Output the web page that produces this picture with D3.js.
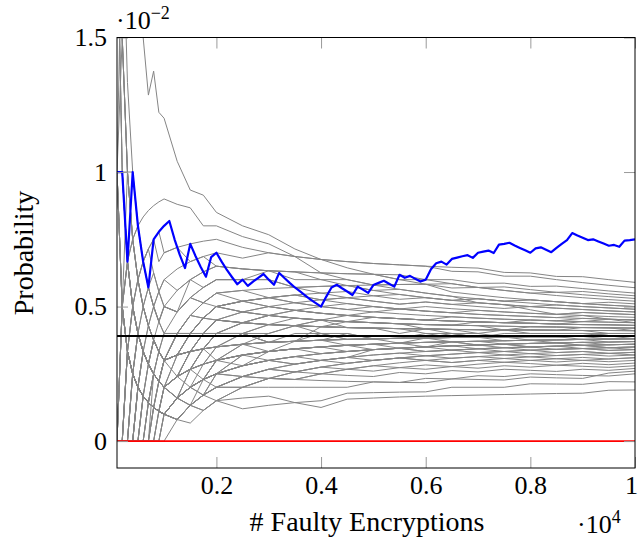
<!DOCTYPE html>
<html>
<head>
<meta charset="utf-8">
<script src="https://cdn.jsdelivr.net/npm/d3@7"></script>
<style>
  body { margin: 0; background: #fff; }
  svg { display: block; font-family: "Liberation Serif", "Times New Roman", serif; }
</style>
</head>
<body>
<div id="chart"></div>
<script>
// number of faulty encryptions at which the wrong-key curves were sampled
var grayN = [100, 200, 300, 400, 500, 600, 700, 800, 900, 1000,
  1250, 1500, 1750, 2000, 2500, 3000, 3500, 4000, 4500, 5000,
  5500, 6000, 6500, 7000, 7500, 8000, 8500, 9000, 9500, 10000];

// wrong key candidates, probability in units of 1e-5
var wrongKeys = [
  [0,0,333,250,200,167,143,125,111,100, 80,133,114,150,120,133,143,125,156,160,164,167,169,171,173,175,177,178,189,190],
  [0,0,0,0,0,0,0,0,111,100, 80,133,171,150,160,167,143,150,178,180,182,183,200,200,200,213,212,211,221,220],
  [0,0,0,0,0,167,143,125,111,100, 160,133,171,200,200,200,200,200,200,220,218,233,231,243,240,250,247,244,242,250],
  [0,0,0,0,200,167,143,125,111,100, 160,200,171,250,240,233,229,250,244,240,255,250,262,257,267,263,259,267,263,270],
  [0,0,0,250,200,167,143,125,111,200, 160,200,229,250,240,267,257,250,267,260,273,267,277,271,280,275,282,278,274,280],
  [0,0,333,250,200,167,143,125,111,100, 160,200,229,200,240,233,257,275,267,280,273,283,277,286,293,288,282,289,284,290],
  [0,500,333,250,200,167,143,125,111,100, 80,133,171,200,200,233,229,250,267,280,291,300,292,300,293,300,294,300,295,300],
  [1000,500,333,250,200,167,143,125,111,100, 160,200,229,250,280,300,286,300,289,300,309,300,308,314,307,313,306,311,305,310],
  [0,0,0,0,0,0,143,125,111,200, 240,267,286,300,320,300,314,300,311,300,309,317,308,314,320,313,318,322,316,320],
  [0,0,0,0,0,0,0,125,111,100, 160,200,171,200,240,267,286,300,311,320,327,317,323,329,320,325,318,322,326,320],
  [0,0,0,0,0,0,0,0,0,100, 160,200,229,250,280,300,314,325,333,340,345,333,338,343,333,338,329,333,326,330],
  [0,0,333,250,400,333,286,250,222,200, 240,333,343,350,360,333,343,325,333,340,345,350,338,343,347,338,341,344,337,340],
  [0,500,333,250,400,333,286,250,333,300, 320,333,343,300,320,333,343,350,356,360,345,350,354,343,347,350,341,344,347,340],
  [1000,500,667,500,400,333,286,250,222,200, 240,267,286,350,360,367,371,375,356,360,364,350,354,357,360,350,353,356,347,350],
  [0,0,0,250,200,167,286,250,222,200, 240,200,229,250,320,333,343,350,333,340,345,350,354,357,347,350,353,344,347,350],
  [0,0,0,0,200,333,286,250,222,300, 320,333,343,400,400,367,371,375,378,380,364,367,369,357,360,363,365,356,358,360],
  [2000,1000,667,500,400,333,286,250,222,200, 160,200,229,300,320,333,343,350,356,360,364,367,369,371,360,363,365,367,358,360],
  [0,0,0,0,0,0,143,125,222,200, 240,333,400,400,400,367,371,400,400,380,382,383,385,386,373,375,376,378,368,370],
  [0,0,333,500,400,333,286,375,333,300, 320,333,343,350,360,367,371,375,378,380,382,383,369,371,373,375,365,367,368,370],
  [0,0,0,0,0,0,0,0,111,100, 160,200,286,350,360,367,371,375,378,380,382,383,385,386,387,388,388,378,379,380],
  [0,500,333,250,200,333,286,250,222,200, 240,267,343,400,440,433,429,425,422,420,400,417,415,400,387,388,388,389,379,380],
  [0,0,0,0,200,167,143,125,222,200, 320,333,400,400,400,433,429,400,378,380,382,400,400,386,387,388,388,389,389,390],
  [0,0,0,0,0,167,143,125,111,100, 160,267,286,300,320,333,343,350,356,360,364,383,385,386,387,388,388,389,389,390],
  [0,0,0,250,200,167,143,250,222,300, 400,467,457,450,440,433,429,425,422,420,418,417,415,414,413,400,400,400,389,390],
  [0,0,0,0,0,0,0,125,111,100, 160,200,229,300,360,367,400,400,378,380,382,383,385,386,387,388,388,389,400,400],
  [1000,1000,667,500,400,333,286,250,222,300, 320,333,400,450,440,433,429,425,422,420,418,417,415,414,413,413,412,411,400,400],
  [0,0,0,0,0,0,0,0,0,0, 80,133,171,250,320,333,371,375,400,380,382,383,400,400,413,413,412,411,411,410],
  [0,0,333,250,400,500,429,375,333,400, 400,400,457,450,440,467,457,450,444,440,436,433,431,429,413,413,412,411,411,410],
  [0,0,0,0,0,167,286,250,222,200, 240,333,343,400,400,367,371,425,422,420,418,417,415,414,413,425,424,422,421,420],
  [0,500,333,500,400,333,286,250,333,300, 320,400,457,500,480,467,457,450,444,440,436,433,431,429,427,425,424,422,421,420],
  [0,0,0,0,200,167,143,250,222,200, 240,267,343,400,440,433,457,450,444,440,436,433,431,443,440,438,435,433,432,430],
  [2000,1000,667,500,600,500,429,375,333,300, 320,400,400,450,480,500,486,475,467,460,455,450,446,443,440,438,435,433,432,430],
  [0,0,0,250,200,167,286,375,333,300, 320,333,400,450,440,433,429,450,444,460,455,450,446,443,440,450,447,444,442,440],
  [0,500,333,250,400,333,429,375,333,300, 400,467,514,500,520,500,486,500,489,480,473,467,462,457,453,450,447,456,453,450],
  [0,0,0,0,0,0,143,250,222,300, 320,400,400,450,440,467,486,475,467,460,455,450,462,457,453,450,447,444,453,450],
  [1000,500,333,500,400,500,429,500,444,400, 400,467,457,500,520,533,514,500,489,500,491,483,477,471,467,463,459,467,463,460],
  [0,0,0,0,0,167,143,250,333,300, 320,400,457,500,480,500,514,500,511,500,491,500,492,486,480,475,471,478,474,470],
  [0,0,0,250,400,333,286,375,333,400, 480,533,514,550,560,533,543,525,533,520,509,517,508,500,493,500,494,489,484,480],
  [0,0,333,250,200,333,429,375,333,300, 400,400,457,500,520,533,514,525,533,520,509,517,508,514,507,500,506,500,495,490],
  [1000,500,667,750,600,500,571,500,444,500, 480,533,571,600,600,600,571,575,578,560,564,550,538,529,520,525,518,511,505,500],
  [0,0,0,0,0,0,0,125,222,300, 400,400,457,500,520,533,543,550,533,540,527,533,523,529,520,525,518,511,516,510],
  [0,500,667,500,600,500,571,500,444,500, 480,600,629,650,640,633,629,625,622,620,618,600,585,571,560,550,541,533,526,520],
  [0,0,0,0,200,333,286,375,444,500, 480,533,571,600,600,600,571,575,578,580,582,583,585,571,573,563,553,556,547,540],
  [2000,1500,1000,750,600,500,429,500,556,500, 560,600,571,600,600,633,629,625,622,620,600,600,600,586,587,575,576,567,558,550],
  [0,0,333,500,600,667,571,625,556,600, 640,667,686,700,680,700,686,675,667,660,655,650,631,629,613,613,600,589,579,570],
  [1000,1000,1000,750,800,667,714,750,778,700, 720,733,743,750,720,700,686,675,667,660,655,650,646,643,627,625,612,611,600,590],
  [3000,1500,1000,750,800,833,857,875,889,900, 880,867,800,800,760,733,686,625,600,580,564,550,538,514,507,488,471,467,453,440],
  [2000,2000,1333,1000,800,667,571,500,444,400, 400,400,457,500,480,467,457,450,422,420,418,417,400,386,387,388,388,389,400,400],
  [1000,1500,1000,750,600,500,429,375,333,300, 240,267,286,300,320,333,343,350,356,360,364,367,369,357,360,363,365,356,358,360],
  [0,500,1000,1000,800,667,714,750,667,700, 720,667,686,650,640,633,600,600,578,560,545,533,523,514,507,500,494,489,484,480],
  [0,0,0,0,0,0,0,0,0,100, 80,133,229,250,280,333,343,350,356,360,364,367,369,371,373,375,376,378,379,380],
  [1000,500,333,250,200,167,143,250,222,200, 160,200,229,300,320,333,343,350,356,340,345,333,338,329,333,325,329,333,326,330],
  [1000,2000,2000,1750,1600,1500,1286,1375,1222,1200, 1040,933,914,850,800,767,714,675,644,620,600,583,554,543,533,525,518,511,505,500],
  [0,0,0,0,0,0,0,250,222,200, 240,267,286,300,280,300,314,325,333,340,345,350,354,357,360,350,353,356,347,350],
  [1000,500,333,250,200,333,286,250,222,200, 240,267,229,250,280,300,314,325,333,340,345,350,354,357,360,363,365,367,368,370],
  [0,0,0,250,200,167,143,125,111,100, 160,133,171,200,240,267,286,300,311,340,345,350,369,371,373,375,376,378,379,390],
  [0,500,333,250,200,167,143,125,111,200, 240,267,343,350,400,400,429,425,444,440,436,433,431,429,427,425,424,422,421,410],
  [0,0,0,0,0,0,143,125,111,100, 160,267,343,400,440,467,457,450,444,440,436,417,415,414,413,413,412,422,421,420],
  [0,0,0,0,200,167,143,125,111,200, 320,400,457,500,520,500,486,475,467,460,455,450,446,443,440,438,435,444,442,440],
  [2000,1000,667,500,400,333,286,375,333,300, 320,333,343,350,360,367,371,375,378,380,382,383,385,386,387,375,376,378,379,380],
  [0,0,333,250,200,167,143,125,111,100, 160,200,229,250,280,300,286,300,311,320,327,333,338,343,347,350,353,356,358,360],
  [0,0,0,0,0,0,0,0,111,200, 240,333,400,450,480,467,486,475,467,460,455,450,446,443,440,438,435,433,432,430],
  [1000,500,667,500,400,333,286,250,222,300, 400,467,514,550,520,533,543,525,511,500,491,483,477,486,480,475,471,478,474,470],
  [0,0,0,0,0,167,143,125,222,300, 320,333,343,350,400,433,429,425,422,420,418,400,385,386,400,400,400,400,400,400],
  [0,0,0,0,0,0,0,125,111,100, 80,67,114,150,200,233,257,275,289,300,309,317,323,329,333,338,341,344,337,340],
  [1000,1000,667,500,400,333,286,250,222,200, 160,133,171,200,240,267,257,275,289,300,309,300,292,300,307,300,306,300,305,310],
  [0,0,0,0,0,0,0,0,0,100, 160,200,229,300,360,400,429,450,467,480,491,483,477,471,467,463,459,456,453,450],
  [1000,1000,667,750,600,667,714,625,556,600, 560,600,629,650,640,633,629,600,600,580,582,583,569,571,560,550,553,544,537,530],
  [0,0,0,0,200,167,143,125,111,100, 80,133,114,150,200,233,229,225,222,220,218,217,231,229,227,238,235,233,253,260],
  [2000,1500,1000,750,600,667,571,500,556,500, 480,533,514,550,560,567,571,550,556,540,545,533,523,529,520,513,506,500,495,490]
];

// correct key, sampled every 100 encryptions, units of 1e-5
var blueN = [100,200,300,400,500,600,700,800,900,1000,
  1100,1200,1300,1400,1500,1600,1700,1800,1900,2000,
  2100,2200,2300,2400,2500,2600,2700,2800,2900,3000,
  3100,3200,3300,3400,3500,3600,3700,3800,3900,4000,
  4100,4200,4300,4400,4500,4600,4700,4800,4900,5000,
  5100,5200,5300,5400,5500,5600,5700,5800,5900,6000,
  6100,6200,6300,6400,6500,6600,6700,6800,6900,7000,
  7100,7200,7300,7400,7500,7600,7700,7800,7900,8000,
  8100,8200,8300,8400,8500,8600,8700,8800,8900,9000,
  9100,9200,9300,9400,9500,9600,9700,9800,9900,10000];
var correctKey = [1000,1000,667,1000,800,667,571,750,778,800,
  818,750,692,643,733,688,647,611,684,700,
  667,636,609,583,600,577,593,607,621,600,
  581,625,606,588,571,556,541,526,513,500,
  537,571,581,568,556,543,574,563,551,580,
  588,596,585,574,618,607,614,603,593,600,
  639,661,667,656,677,682,687,691,681,700,
  704,708,699,730,733,737,727,718,709,700,
  716,720,711,702,718,733,747,773,764,756,
  747,750,742,734,726,729,722,745,747,750];

var uniformProb = 0.00390625;
var zeroProb = 0;

var xTickVals = [2000, 4000, 6000, 8000, 10000];
var xTickLabels = ["0.2", "0.4", "0.6", "0.8", "1"];
var yTickVals = [0, 0.005, 0.01, 0.015];
var yTickLabels = ["0", "0.5", "1", "1.5"];

var width = 639;
var height = 546;
var margin = { top: 37.5, right: 4, bottom: 78, left: 117 };
var unit = 1e-5;

var x = d3.scaleLinear().domain([100, 10000]).range([margin.left, width - margin.right]);
var y = d3.scaleLinear().domain([-0.001, 0.015]).range([height - margin.bottom, margin.top]);

var svg = d3.select("#chart").append("svg")
  .attr("width", width)
  .attr("height", height);

svg.append("clipPath").attr("id", "plot-clip")
  .append("rect")
  .attr("x", x.range()[0]).attr("y", y.range()[1])
  .attr("width", x.range()[1] - x.range()[0])
  .attr("height", y.range()[0] - y.range()[1]);

var plot = svg.append("g").attr("clip-path", "url(#plot-clip)");

var grayLine = d3.line()
  .x((d, i) => x(grayN[i]))
  .y((d) => y(d * unit));

plot.selectAll(".wrong")
  .data(wrongKeys)
  .enter()
  .append("path")
  .attr("class", "wrong")
  .attr("d", grayLine)
  .attr("fill", "none")
  .attr("stroke", "#858585")
  .attr("stroke-width", 1);

// horizontal reference lines
plot.append("line")
  .attr("x1", x(100)).attr("x2", x(10000))
  .attr("y1", y(uniformProb)).attr("y2", y(uniformProb))
  .attr("stroke", "#000").attr("stroke-width", 1.8);

plot.append("line")
  .attr("x1", x(100)).attr("x2", x(10000))
  .attr("y1", y(zeroProb)).attr("y2", y(zeroProb))
  .attr("stroke", "#ff0000").attr("stroke-width", 1.8);

var blueLine = d3.line()
  .x((d, i) => x(blueN[i]))
  .y((d) => y(d * unit));

plot.append("path")
  .datum(correctKey)
  .attr("d", blueLine)
  .attr("fill", "none")
  .attr("stroke", "#0000ff")
  .attr("stroke-width", 2.2)
  .attr("stroke-linejoin", "round");

/* axes, ticks pointing inward on all four sides */
var tickLen = 11;
function styleAxis(g) {
  g.select(".domain").remove();
  g.selectAll(".tick line").attr("stroke", "#9a9a9a").attr("stroke-width", 1);
  g.selectAll(".tick text").attr("fill", "#000").style("font-size", "26px")
    .style("font-family", "'Liberation Serif', serif");
}

var xAxisG = svg.append("g")
  .attr("transform", `translate(0, ${y.range()[0]})`)
  .call(d3.axisBottom(x).tickValues(xTickVals)
    .tickFormat((d, i) => xTickLabels[i]).tickSize(-tickLen).tickPadding(8))
  .call(styleAxis);
// keep the last label inside the picture
xAxisG.selectAll(".tick text").filter((d) => d === 10000).attr("dx", -4);

svg.append("g")
  .attr("transform", `translate(0, ${y.range()[1]})`)
  .call(d3.axisTop(x).tickValues(xTickVals).tickFormat("").tickSize(-tickLen))
  .call(styleAxis);

svg.append("g")
  .attr("transform", `translate(${x.range()[0]}, 0)`)
  .call(d3.axisLeft(y).tickValues(yTickVals)
    .tickFormat((d, i) => yTickLabels[i]).tickSize(-tickLen).tickPadding(10))
  .call(styleAxis);

svg.append("g")
  .attr("transform", `translate(${x.range()[1]}, 0)`)
  .call(d3.axisRight(y).tickValues(yTickVals).tickFormat("").tickSize(-tickLen))
  .call(styleAxis);

svg.append("rect")
  .attr("x", x.range()[0]).attr("y", y.range()[1])
  .attr("width", x.range()[1] - x.range()[0])
  .attr("height", y.range()[0] - y.range()[1])
  .attr("fill", "none")
  .attr("stroke", "#000")
  .attr("stroke-width", 1);

/* labels */
svg.append("text")
  .attr("x", 367).attr("y", 531)
  .attr("text-anchor", "middle")
  .style("font-size", "28px")
  .text("# Faulty Encryptions");

svg.append("text")
  .attr("transform", "translate(33, 253) rotate(-90)")
  .attr("text-anchor", "middle")
  .style("font-size", "28px")
  .text("Probability");

var yExp = svg.append("text").attr("x", 116).attr("y", 29).style("font-size", "26px");
yExp.append("tspan").text("·10");
yExp.append("tspan").attr("dy", -10).style("font-size", "18px").text("−2");

var xExp = svg.append("text").attr("x", 577).attr("y", 533).style("font-size", "26px");
xExp.append("tspan").text("·10");
xExp.append("tspan").attr("dy", -10).style("font-size", "18px").text("4");
</script>
</body>
</html>
